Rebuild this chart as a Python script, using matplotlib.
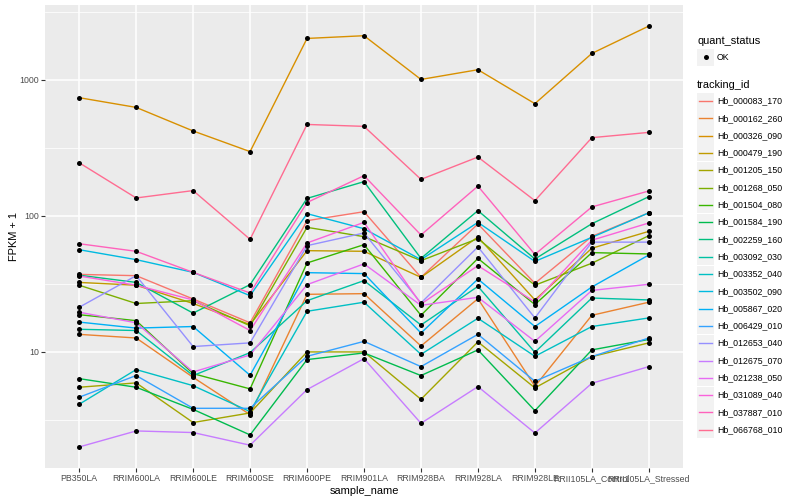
import matplotlib
matplotlib.use('Agg')
import matplotlib.pyplot as plt
import numpy as np
from matplotlib.patches import Rectangle
from matplotlib.ticker import FixedLocator, NullFormatter

plt.rcParams['font.family'] = ['Liberation Sans', 'DejaVu Sans']

samples = ["PB350LA", "RRIM600LA", "RRIM600LE", "RRIM600SE", "RRIM600PE", "RRIM901LA",
           "RRIM928BA", "RRIM928LA", "RRIM928LE", "RRII105LA_Control", "RRII105LA_Stressed"]

tracking_ids = ["Hb_000083_170", "Hb_000162_260", "Hb_000326_090", "Hb_000479_190",
                "Hb_001205_150", "Hb_001268_050", "Hb_001504_080", "Hb_001584_190",
                "Hb_002259_160", "Hb_003092_030", "Hb_003352_040", "Hb_003502_090",
                "Hb_005867_020", "Hb_006429_010", "Hb_012653_040", "Hb_012675_070",
                "Hb_021238_050", "Hb_031089_040", "Hb_037887_010", "Hb_066768_010"]

colors = ["#F8766D", "#EA8331", "#D89000", "#C09B00", "#A3A500", "#7CAE00", "#39B600",
          "#00BB4E", "#00BF7D", "#00C1A3", "#00BFC4", "#00BAE0", "#00B0F6", "#35A2FF",
          "#9590FF", "#C77CFF", "#E76BF3", "#FA62DB", "#FF62BC", "#FF6C91"]

# FPKM + 1 per sample (order of `samples`)
hb_000083_170 = [37.0, 36.2, 24.4, 16.3, 91.9, 107, 35.2, 86.9, 31.8, 70.4, 105]
hb_000162_260 = [13.4, 12.6, 6.47, 3.44, 26.4, 26.7, 11.0, 24.5, 5.56, 18.5, 23.1]
hb_000326_090 = [738, 626, 420, 296, 2013, 2108, 1005, 1185, 667, 1562, 2483]
hb_000479_190 = [32.3, 30.8, 22.6, 15.8, 55.3, 54.7, 35.2, 69.7, 24.0, 57.6, 76.7]
hb_001205_150 = [5.47, 5.89, 3.01, 3.54, 9.95, 9.95, 4.46, 11.8, 5.41, 9.19, 11.6]
hb_001268_050 = [30.8, 22.6, 23.7, 15.5, 82.1, 70.1, 46.7, 67.8, 30.8, 44.7, 71.3]
hb_001504_080 = [18.7, 16.9, 6.89, 5.32, 44.9, 61.2, 18.5, 48.5, 22.2, 53.5, 52.3]
hb_001584_190 = [6.33, 5.47, 3.76, 2.44, 8.74, 9.78, 6.67, 10.3, 3.68, 10.3, 12.3]
hb_002259_160 = [36.5, 32.3, 19.2, 31.1, 134, 178, 48.5, 109, 48.0, 87.3, 138]
hb_003092_030 = [14.6, 14.3, 6.67, 9.83, 23.7, 33.3, 15.7, 30.2, 9.89, 24.8, 24.0]
hb_003352_040 = [4.10, 7.38, 5.62, 3.62, 19.8, 23.1, 9.55, 17.6, 9.24, 15.3, 17.7]
hb_003502_090 = [56.2, 47.5, 38.3, 25.8, 103.5, 80.2, 47.5, 89.3, 46.1, 69.3, 105]
hb_005867_020 = [16.5, 14.9, 15.3, 6.70, 38.1, 37.5, 13.7, 34.2, 15.3, 29.9, 51.4]
hb_006429_010 = [4.62, 6.67, 3.83, 3.83, 9.24, 11.9, 7.76, 13.4, 6.05, 9.19, 12.6]
hb_012653_040 = [21.2, 36.2, 10.9, 11.6, 60.2, 74.6, 22.8, 58.9, 17.7, 63.9, 63.9]
hb_012675_070 = [1.99, 2.61, 2.54, 2.05, 5.26, 8.88, 2.97, 5.53, 2.52, 5.85, 7.76]
hb_021238_050 = [19.5, 16.3, 7.09, 9.45, 31.1, 44.2, 21.9, 25.1, 11.9, 28.2, 31.3]
hb_031089_040 = [36.0, 30.8, 24.0, 14.3, 63.0, 89.3, 22.4, 42.9, 23.2, 66.0, 88.4]
hb_037887_010 = [62.2, 54.7, 38.3, 27.0, 125, 197, 72.1, 165, 51.9, 116, 152]
hb_066768_010 = [245, 135, 153, 67, 469, 454, 185, 270, 129, 375, 410]

series = [hb_000083_170, hb_000162_260, hb_000326_090, hb_000479_190, hb_001205_150,
          hb_001268_050, hb_001504_080, hb_001584_190, hb_002259_160, hb_003092_030,
          hb_003352_040, hb_003502_090, hb_005867_020, hb_006429_010, hb_012653_040,
          hb_012675_070, hb_021238_050, hb_031089_040, hb_037887_010, hb_066768_010]

W, H = 800, 500
fig = plt.figure(figsize=(8, 5), dpi=100)
L, R, T, B = 45, 683, 5, 468
ax = fig.add_axes([L / W, 1 - B / H, (R - L) / W, (B - T) / H])
ax.set_facecolor('#EBEBEB')
for s in ax.spines.values():
    s.set_visible(False)

x = np.arange(len(samples))
for vals, c in zip(series, colors):
    ax.plot(x, vals, color=c, lw=1.0, zorder=3, solid_capstyle='butt')
for vals in series:
    ax.plot(x, vals, 'o', color='black', ms=3.6, mew=0, zorder=4)

ax.set_yscale('log')
allv = np.concatenate([np.log10(v) for v in series])
lo, hi = allv.min(), allv.max()
pad = 0.05 * (hi - lo)
ax.set_ylim(10 ** (lo - pad), 10 ** (hi + pad))
ax.set_xlim(-0.6, len(samples) - 0.4)

ax.yaxis.set_major_locator(FixedLocator([10, 100, 1000]))
ax.set_yticklabels(['10', '100', '1000'])
ax.yaxis.set_minor_locator(FixedLocator([10 ** 0.5, 10 ** 1.5, 10 ** 2.5, 10 ** 3.5]))
ax.yaxis.set_minor_formatter(NullFormatter())
ax.set_xticks(x)
ax.set_xticklabels(samples)

ax.grid(which='major', color='white', lw=1.1, zorder=1)
ax.grid(which='minor', axis='y', color='white', lw=0.55, zorder=1)
ax.set_axisbelow(True)
ax.tick_params(which='major', length=2.7, width=0.8, color='#333333',
               labelsize=6.3, labelcolor='#4D4D4D', pad=1.5)
ax.tick_params(which='minor', length=0)

ax.set_xlabel('sample_name', fontsize=7.9, color='black', labelpad=2)
ax.set_ylabel('FPKM + 1', fontsize=7.9, color='black', labelpad=0.5)

# legend overlay in pixel coordinates
ov = fig.add_axes([0, 0, 1, 1], facecolor='none')
ov.set_xlim(0, W)
ov.set_ylim(H, 0)
ov.axis('off')

ov.text(697, 40.5, 'quant_status', fontsize=7.9, va='center', ha='left')
ov.add_patch(Rectangle((697, 48.5), 17, 17, facecolor='#F2F2F2', edgecolor='none'))
ov.plot([705.5], [57], 'o', color='black', ms=3.6, mew=0)
ov.text(717, 57, 'OK', fontsize=6.3, va='center', ha='left')

ov.text(697, 84.5, 'tracking_id', fontsize=7.9, va='center', ha='left')
for i, (tid, c) in enumerate(zip(tracking_ids, colors)):
    yc = 101 + 17.3 * i
    ov.add_patch(Rectangle((697, yc - 8.5), 17, 17, facecolor='#F2F2F2', edgecolor='none'))
    ov.plot([699, 712], [yc, yc], color=c, lw=1.0)
    ov.text(717, yc, tid, fontsize=6.3, va='center', ha='left')

fig.savefig('out.png', dpi=100)
